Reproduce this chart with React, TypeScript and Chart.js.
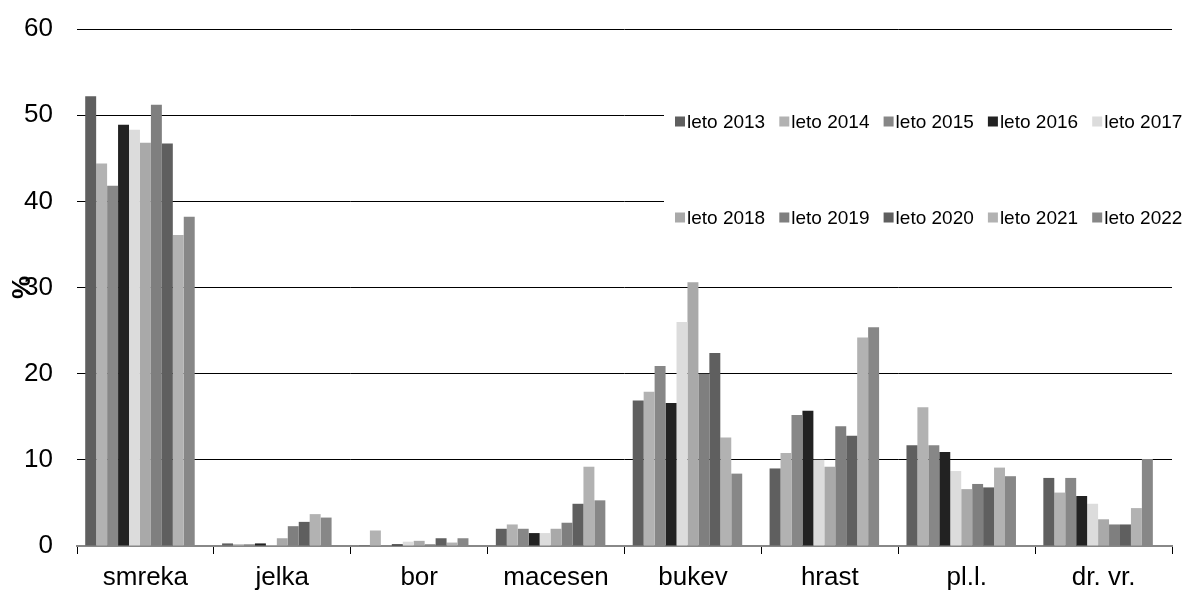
import React, { useEffect, useRef } from "react";
import { Chart, registerables } from "chart.js";

Chart.register(...registerables);

const categories = ["smreka", "jelka", "bor", "macesen", "bukev", "hrast", "pl.l.", "dr. vr."];
const seriesLabels = ["leto 2013", "leto 2014", "leto 2015", "leto 2016", "leto 2017", "leto 2018", "leto 2019", "leto 2020", "leto 2021", "leto 2022"];
const seriesColors = ["#5f5f5f", "#b2b2b2", "#878787", "#222222", "#dcdcdc", "#a9a9a9", "#7f7f7f", "#5f5f5f", "#b2b2b2", "#878787"];

const leto2013 = [52.2, 0.3, 0.1, 2.0, 16.9, 9.0, 11.7, 7.9];
const leto2014 = [44.4, 0.2, 1.8, 2.5, 17.9, 10.8, 16.1, 6.2];
const leto2015 = [41.8, 0.2, 0.0, 2.0, 20.9, 15.2, 11.7, 7.9];
const leto2016 = [48.9, 0.3, 0.2, 1.5, 16.6, 15.7, 10.9, 5.8];
const leto2017 = [48.3, 0.1, 0.5, 1.5, 26.0, 10.0, 8.7, 4.9];
const leto2018 = [46.8, 0.9, 0.6, 2.0, 30.6, 9.2, 6.6, 3.1];
const leto2019 = [51.2, 2.3, 0.2, 2.7, 20.0, 13.9, 7.2, 2.5];
const leto2020 = [46.7, 2.8, 0.9, 4.9, 22.4, 12.8, 6.8, 2.5];
const leto2021 = [36.1, 3.7, 0.4, 9.2, 12.6, 24.2, 9.1, 4.4];
const leto2022 = [38.2, 3.3, 0.9, 5.3, 8.4, 25.4, 8.1, 10.1];
// empty trailing series (reserves an empty slot in each group, as in the original)
const emptySeries = [null, null, null, null, null, null, null, null];

const seriesValues = [leto2013, leto2014, leto2015, leto2016, leto2017, leto2018, leto2019, leto2020, leto2021, leto2022];

const yTicks = [0, 10, 20, 30, 40, 50, 60];

const FONT = "'Liberation Sans', Arial, sans-serif";

const legendPlugin = {
  id: "excelLegend",
  afterDraw(chart: any) {
    const ctx = chart.ctx as CanvasRenderingContext2D;
    const items = chart.data.datasets.filter((d: any) => d.label);
    ctx.save();
    ctx.fillStyle = "#ffffff";
    ctx.fillRect(664, 102, 528, 130);
    ctx.font = `19px ${FONT}`;
    ctx.textBaseline = "middle";
    ctx.textAlign = "left";
    items.forEach((d: any, i: number) => {
      const row = Math.floor(i / 5);
      const col = i % 5;
      const bx = 675 + col * 104.3;
      const cy = 121.5 + row * 96;
      ctx.fillStyle = d.backgroundColor;
      ctx.fillRect(bx, cy - 5, 10, 10);
      ctx.fillStyle = "#000000";
      ctx.fillText(d.label, bx + 12, cy + 1);
    });
    ctx.restore();
  },
};

export default function App() {
  const canvasRef = useRef<HTMLCanvasElement | null>(null);

  useEffect(() => {
    if (!canvasRef.current) return;
    const datasets: any[] = seriesValues.map((vals, i) => ({
      label: seriesLabels[i],
      data: vals,
      backgroundColor: seriesColors[i],
      borderWidth: 0,
    }));
    datasets.push({ label: "", data: emptySeries, backgroundColor: "rgba(0,0,0,0)", borderWidth: 0 });

    const chart = new Chart(canvasRef.current, {
      type: "bar",
      data: { labels: categories, datasets },
      plugins: [legendPlugin],
      options: {
        responsive: false,
        animation: false,
        layout: { padding: { top: 29, right: 20, left: 0, bottom: 0 } },
        datasets: { bar: { categoryPercentage: 0.88, barPercentage: 1.0 } },
        plugins: {
          legend: { display: false },
          tooltip: { enabled: false },
        },
        scales: {
          x: {
            z: 1,
            grid: {
              offset: true,
              drawOnChartArea: false,
              drawTicks: true,
              tickLength: 8,
              color: "#000000",
              lineWidth: 1,
            },
            border: { display: true, color: "#888888", width: 2 },
            ticks: {
              color: "#000000",
              padding: 8,
              font: { family: FONT, size: 26 },
              maxRotation: 0,
              autoSkip: false,
            },
            afterFit: (s: any) => {
              s.height = 44;
            },
          },
          y: {
            min: 0,
            max: 60,
            afterBuildTicks: (s: any) => {
              s.ticks = yTicks.map((v) => ({ value: v }));
            },
            grid: { drawTicks: false, color: "#000000", lineWidth: 1 },
            border: { display: false },
            ticks: {
              color: "#000000",
              padding: 24,
              font: { family: FONT, size: 26 },
            },
            title: {
              display: true,
              text: "%",
              color: "#000000",
              padding: { top: 7, bottom: 0 },
              font: { family: FONT, size: 26, weight: "bold" },
            },
            afterFit: (s: any) => {
              s.width = 77;
              s.paddingTop = 0;
              s.paddingBottom = 0;
            },
          },
        },
      },
    });
    return () => chart.destroy();
  }, []);

  return (
    <div style={{ position: "fixed", left: 0, top: 0, width: 1192, height: 590, background: "#ffffff" }}>
      <canvas ref={canvasRef} width={1192} height={590} style={{ display: "block" }} />
    </div>
  );
}
